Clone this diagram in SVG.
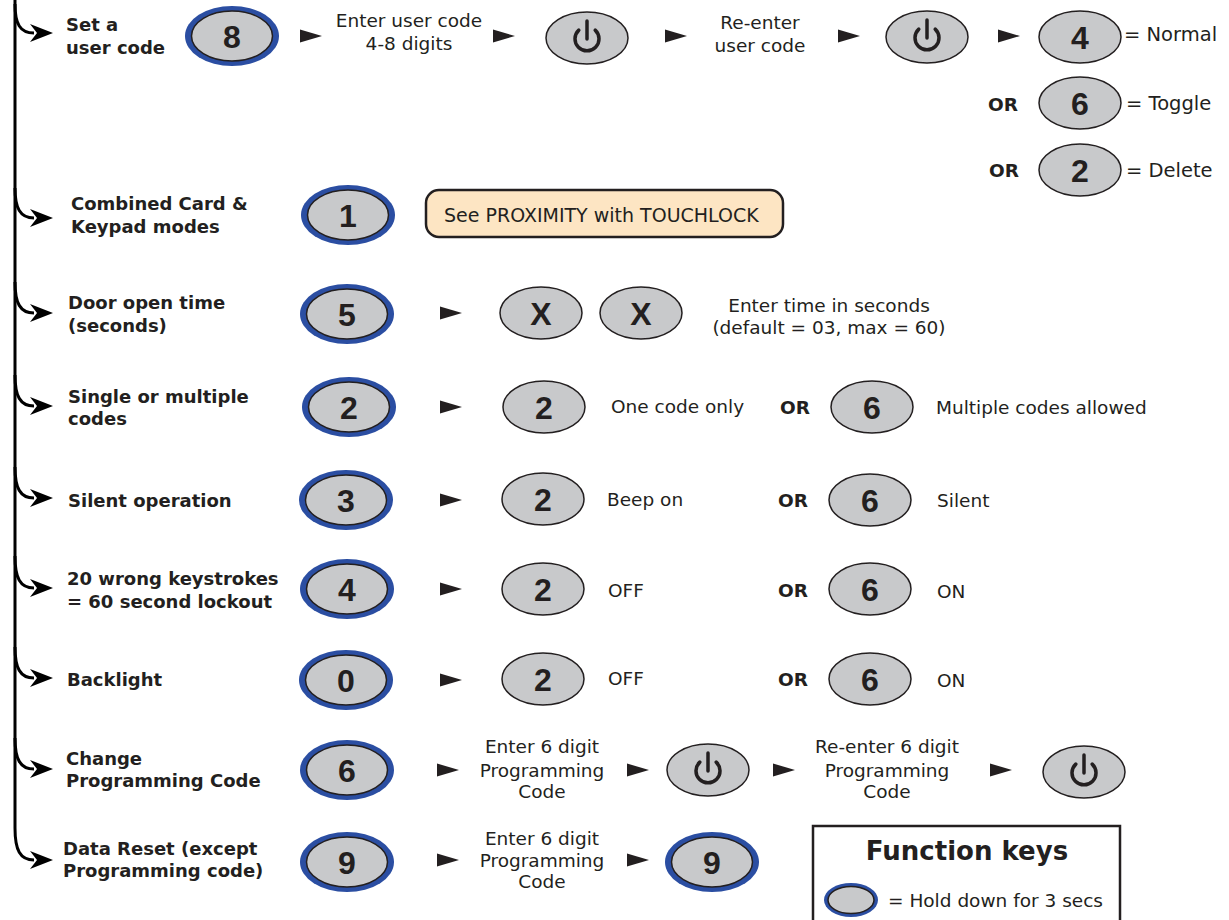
<svg xmlns="http://www.w3.org/2000/svg" width="1229" height="920" viewBox="0 0 1229 920">
<style>
text{fill:#231f20}
.lbl{font-family:"DejaVu Sans",Verdana,sans-serif;font-weight:bold;font-size:18px}
.txt{font-family:"DejaVu Sans",Verdana,sans-serif;font-size:18.5px}
.txc{font-family:"DejaVu Sans",Verdana,sans-serif;font-size:18.5px;text-anchor:middle}
.t1{font-family:"DejaVu Sans",Verdana,sans-serif;font-size:19.5px}
.or{font-family:"DejaVu Sans",Verdana,sans-serif;font-weight:bold;font-size:18.5px}
.dig{font-family:"Liberation Sans",Arial,sans-serif;font-weight:bold;font-size:32px;text-anchor:middle}
.ring{fill:#2b4ea2}
.key{fill:#c8c9cb;stroke:#231f20;stroke-width:1.5}
.pw{fill:none;stroke:#231f20;stroke-width:3.5;stroke-linecap:round}
.tri{fill:#231f20}
.br{fill:none;stroke:#000;stroke-width:3}
.ah{fill:#000}
</style>
<defs>
<g id="blue"><ellipse class="ring" cx="0" cy="0" rx="47" ry="30"/><ellipse class="key" cx="0" cy="0" rx="40.5" ry="25"/></g>
<g id="grey"><ellipse class="key" cx="0" cy="0" rx="41" ry="26"/></g>
<g id="power"><ellipse class="key" cx="0" cy="0" rx="41" ry="26"/><path class="pw" d="M8.2,-7.9 A12 12 0 1 1 -8.2,-7.9"/><line class="pw" x1="0" y1="-17" x2="0" y2="1"/></g>
<polygon id="tri" class="tri" points="0,-6.5 22,0 0,6.5"/>
<polygon id="ahd" class="ah" points="53,0 30,-9 37,0 30,9"/>
</defs>

<g id="connectors">
<path class="br" d="M15,0 L15,828 C15,850 20,860 34,860"/>
<path class="br" d="M15,4 C15,24 20,33 34,33"/>
<path class="br" d="M15,188 C15,208 20,218 34,218"/>
<path class="br" d="M15,282 C15,303 20,313 34,313"/>
<path class="br" d="M15,375 C15,396 20,406 34,406"/>
<path class="br" d="M15,467 C15,488 20,498 34,498"/>
<path class="br" d="M15,556 C15,578 20,588 34,588"/>
<path class="br" d="M15,647 C15,668 20,678 34,678"/>
<path class="br" d="M15,738 C15,759 20,769 34,769"/>
<use href="#ahd" y="33"/>
<use href="#ahd" y="218"/>
<use href="#ahd" y="313"/>
<use href="#ahd" y="406"/>
<use href="#ahd" y="498"/>
<use href="#ahd" y="588"/>
<use href="#ahd" y="678"/>
<use href="#ahd" y="769"/>
<use href="#ahd" y="860"/>
<use href="#tri" x="300" y="36"/>
<use href="#tri" x="493" y="36"/>
<use href="#tri" x="665" y="36"/>
<use href="#tri" x="838" y="36"/>
<use href="#tri" x="998" y="36"/>
<use href="#tri" x="440" y="313"/>
<use href="#tri" x="440" y="407"/>
<use href="#tri" x="440" y="500"/>
<use href="#tri" x="440" y="589"/>
<use href="#tri" x="440" y="680"/>
<use href="#tri" x="437" y="770"/>
<use href="#tri" x="627" y="770"/>
<use href="#tri" x="773" y="770"/>
<use href="#tri" x="990" y="770"/>
<use href="#tri" x="437" y="860"/>
<use href="#tri" x="627" y="860"/>
</g>

<g id="row-user-code">
<text class="lbl" x="66" y="31">Set a</text>
<text class="lbl" x="66" y="54">user code</text>
<use href="#blue" x="232" y="36"/><text class="dig" x="232" y="47.5">8</text>
<text class="txc" x="409" y="27">Enter user code</text>
<text class="txc" x="409" y="50">4-8 digits</text>
<use href="#power" x="587" y="38"/>
<text class="txc" x="760" y="29">Re-enter</text>
<text class="txc" x="760" y="52">user code</text>
<use href="#power" x="927" y="37"/>
<use href="#grey" x="1080" y="37"/><text class="dig" x="1080" y="48.5">4</text>
<text class="t1" x="1124" y="41">= Normal</text>
<text class="or" x="988" y="111">OR</text>
<use href="#grey" x="1080" y="103"/><text class="dig" x="1080" y="114.5">6</text>
<text class="t1" x="1126" y="110">= Toggle</text>
<text class="or" x="989" y="177">OR</text>
<use href="#grey" x="1080" y="170"/><text class="dig" x="1080" y="181.5">2</text>
<text class="t1" x="1126" y="177">= Delete</text>
</g>

<g id="row-combined">
<text class="lbl" x="71" y="210">Combined Card &amp;</text>
<text class="lbl" x="71" y="233">Keypad modes</text>
<use href="#blue" x="348" y="215"/><text class="dig" x="348" y="226.5">1</text>
<rect x="426" y="190" width="357" height="47" rx="13" fill="#fde5c3" stroke="#231f20" stroke-width="2.5"/>
<text class="txt" x="444" y="222" style="font-size:19px">See PROXIMITY with TOUCHLOCK</text>
</g>

<g id="row-door-time">
<text class="lbl" x="68" y="309">Door open time</text>
<text class="lbl" x="68" y="332">(seconds)</text>
<use href="#blue" x="347" y="314"/><text class="dig" x="347" y="325.5">5</text>
<use href="#grey" x="541" y="313"/><text class="dig" x="541" y="324.5">X</text>
<use href="#grey" x="641" y="313"/><text class="dig" x="641" y="324.5">X</text>
<text class="txc" x="829" y="312">Enter time in seconds</text>
<text class="txc" x="829" y="334">(default = 03, max = 60)</text>
</g>

<g id="row-single-multiple">
<text class="lbl" x="68" y="403">Single or multiple</text>
<text class="lbl" x="68" y="425">codes</text>
<use href="#blue" x="349" y="407"/><text class="dig" x="349" y="418.5">2</text>
<use href="#grey" x="544" y="407"/><text class="dig" x="544" y="418.5">2</text>
<text class="txt" x="611" y="413">One code only</text>
<text class="or" x="780" y="414">OR</text>
<use href="#grey" x="872" y="407"/><text class="dig" x="872" y="418.5">6</text>
<text class="txt" x="936" y="414">Multiple codes allowed</text>
</g>

<g id="row-silent">
<text class="lbl" x="68" y="507">Silent operation</text>
<use href="#blue" x="346" y="500"/><text class="dig" x="346" y="511.5">3</text>
<use href="#grey" x="543" y="499"/><text class="dig" x="543" y="510.5">2</text>
<text class="txt" x="607" y="506">Beep on</text>
<text class="or" x="778" y="507">OR</text>
<use href="#grey" x="870" y="500"/><text class="dig" x="870" y="511.5">6</text>
<text class="txt" x="937" y="507">Silent</text>
</g>

<g id="row-lockout">
<text class="lbl" x="67" y="585">20 wrong keystrokes</text>
<text class="lbl" x="67" y="608">= 60 second lockout</text>
<use href="#blue" x="347" y="589"/><text class="dig" x="347" y="600.5">4</text>
<use href="#grey" x="543" y="589"/><text class="dig" x="543" y="600.5">2</text>
<text class="txt" x="608" y="597">OFF</text>
<text class="or" x="778" y="597">OR</text>
<use href="#grey" x="870" y="589"/><text class="dig" x="870" y="600.5">6</text>
<text class="txt" x="937" y="598">ON</text>
</g>

<g id="row-backlight">
<text class="lbl" x="67" y="686">Backlight</text>
<use href="#blue" x="346" y="680"/><text class="dig" x="346" y="691.5">0</text>
<use href="#grey" x="543" y="679"/><text class="dig" x="543" y="690.5">2</text>
<text class="txt" x="608" y="685">OFF</text>
<text class="or" x="778" y="686">OR</text>
<use href="#grey" x="870" y="679"/><text class="dig" x="870" y="690.5">6</text>
<text class="txt" x="937" y="687">ON</text>
</g>

<g id="row-change-code">
<text class="lbl" x="66" y="765">Change</text>
<text class="lbl" x="66" y="787">Programming Code</text>
<use href="#blue" x="347" y="770"/><text class="dig" x="347" y="781.5">6</text>
<text class="txc" x="542" y="753">Enter 6 digit</text>
<text class="txc" x="542" y="777">Programming</text>
<text class="txc" x="542" y="798">Code</text>
<use href="#power" x="708" y="770"/>
<text class="txc" x="887" y="753">Re-enter 6 digit</text>
<text class="txc" x="887" y="777">Programming</text>
<text class="txc" x="887" y="798">Code</text>
<use href="#power" x="1084" y="772"/>
</g>

<g id="row-data-reset">
<text class="lbl" x="63" y="855">Data Reset (except</text>
<text class="lbl" x="63" y="877">Programming code)</text>
<use href="#blue" x="347" y="862"/><text class="dig" x="347" y="873.5">9</text>
<text class="txc" x="542" y="845">Enter 6 digit</text>
<text class="txc" x="542" y="867">Programming</text>
<text class="txc" x="542" y="888">Code</text>
<use href="#blue" x="712" y="862"/><text class="dig" x="712" y="873.5">9</text>
</g>

<g id="function-keys">
<rect x="813" y="826" width="307" height="110" fill="#fff" stroke="#231f20" stroke-width="2.5"/>
<text class="lbl" x="967" y="860" style="font-size:26px;text-anchor:middle">Function keys</text>
<ellipse class="ring" cx="851" cy="900" rx="27" ry="17"/>
<ellipse class="key" cx="851" cy="900" rx="23" ry="13.5"/>
<text class="txt" x="888" y="907">= Hold down for 3 secs</text>
</g>
</svg>
